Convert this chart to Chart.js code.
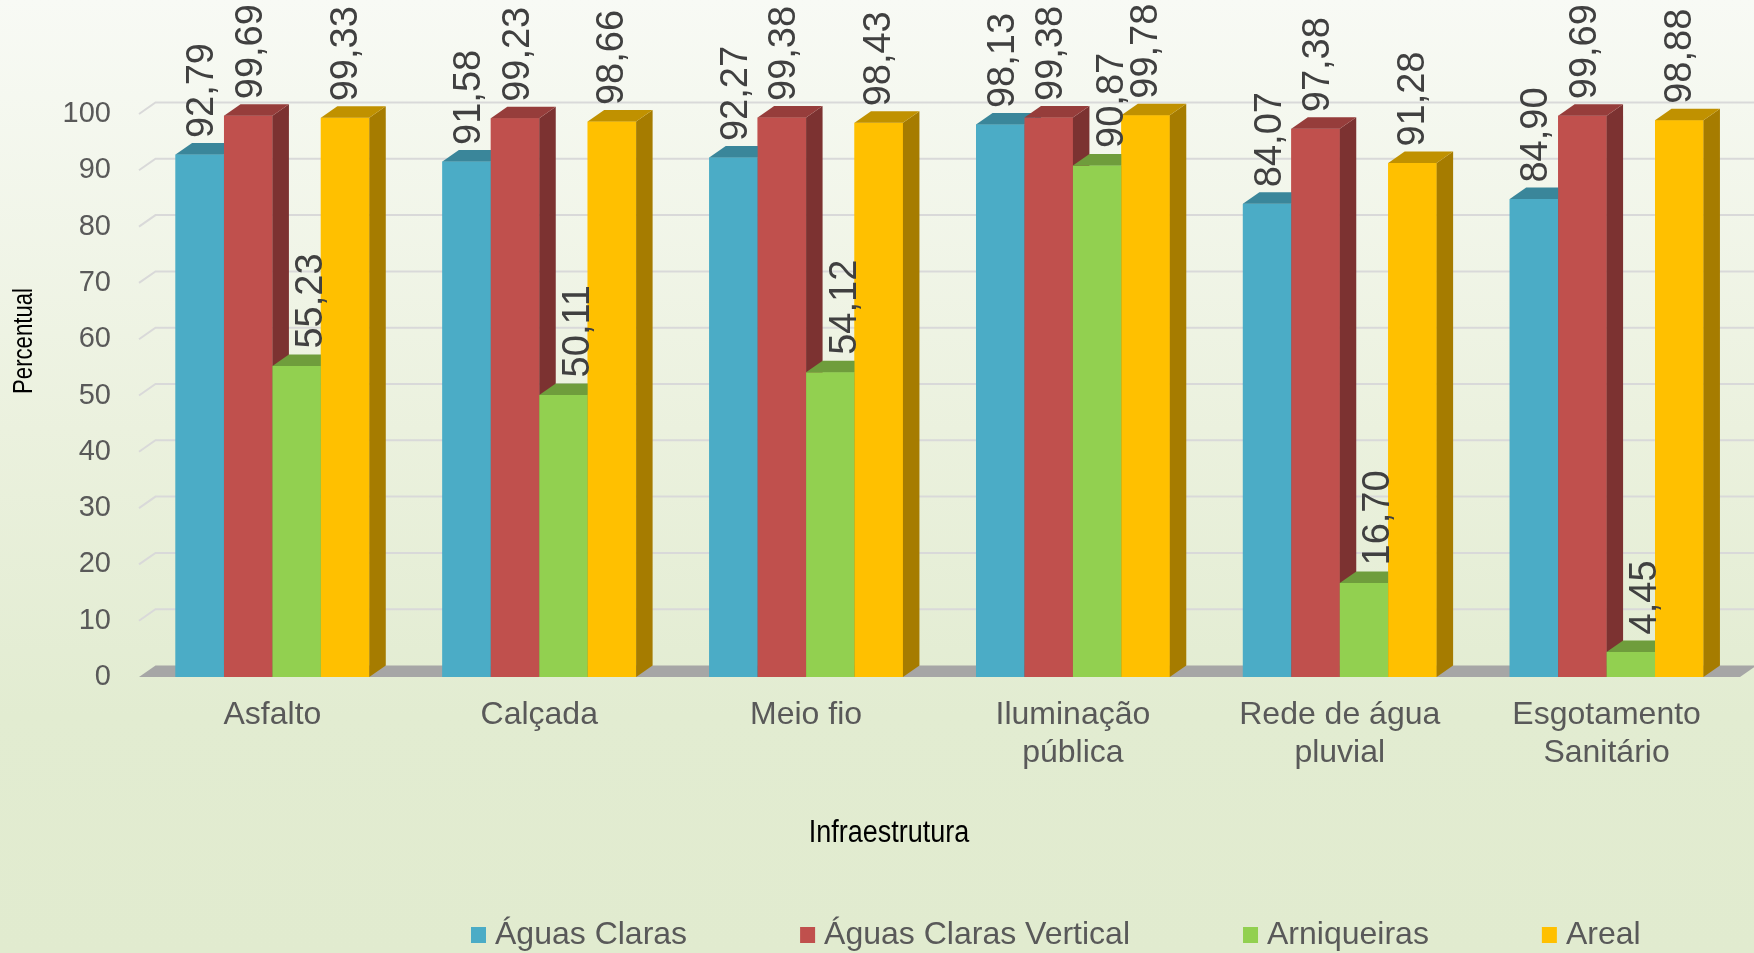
<!DOCTYPE html>
<html>
<head>
<meta charset="utf-8">
<script src="https://cdn.jsdelivr.net/npm/chart.js@4"></script>
<style>
  html, body { margin: 0; padding: 0; }
  body {
    width: 1754px; height: 953px; overflow: hidden;
    background: linear-gradient(to bottom, #f8faf5 0%, #ebf1de 45%, #e2ecd1 75%, #e1ebcf 100%);
  }
  canvas { display: block; }
</style>
</head>
<body>
<canvas id="chart" width="1754" height="953"></canvas>
<script>
// categorias e séries
const categories = ['Asfalto', 'Calçada', 'Meio fio', ['Iluminação', 'pública'], ['Rede de água', 'pluvial'], ['Esgotamento', 'Sanitário']];
const seriesNames = ['Águas Claras', 'Águas Claras Vertical', 'Arniqueiras', 'Areal'];
const aguasClaras = [92.79, 91.58, 92.27, 98.13, 84.07, 84.90];
const aguasClarasVertical = [99.69, 99.23, 99.38, 99.38, 97.38, 99.69];
const arniqueiras = [55.23, 50.11, 54.12, 90.87, 16.70, 4.45];
const areal = [99.33, 98.66, 98.43, 99.78, 91.28, 98.88];

const yAxisTitle = 'Percentual';
const xAxisTitle = 'Infraestrutura';

// cores: frente, topo, lateral
const frontColors = ['#4bacc6', '#c0504d', '#92d050', '#ffc000'];
const topColors = ['#3a869a', '#963d3b', '#6f9d3c', '#c09100'];
const sideColors = ['#2f7183', '#7c3231', '#5d8a30', '#a67c00'];
const labelShift = [3, 3, 15, 1];   // deslocamento x dos rótulos
const labelGap = [5, 5, 6, 5];

const DX = 16.5, DY = -11.5;   // profundidade 3D
const TEXT = '#595959';
const FONT = '"Liberation Sans", Arial, sans-serif';

const fmt = v => v.toFixed(2).replace('.', ',');

function poly(ctx, pts, color) {
    ctx.beginPath();
    ctx.moveTo(pts[0][0], pts[0][1]);
    for (let i = 1; i < pts.length; i++) ctx.lineTo(pts[i][0], pts[i][1]);
    ctx.closePath();
    ctx.fillStyle = color;
    ctx.fill();
}

const bars3d = {
    id: 'bars3d',
    beforeDatasetsDraw(chart) {
        const { ctx, chartArea: a, scales: { y } } = chart;
        ctx.save();
        // linhas de grade na parede do fundo
        ctx.strokeStyle = '#d9d9d9';
        ctx.lineWidth = 2;
        y.ticks.forEach(t => {
            if (t.value === 0) return;
            const py = y.getPixelForValue(t.value);
            ctx.beginPath();
            ctx.moveTo(a.left, py);
            ctx.lineTo(a.left + DX, py + DY);
            ctx.lineTo(a.right + DX, py + DY);
            ctx.stroke();
        });
        // piso
        const b = y.getPixelForValue(0);
        poly(ctx, [[a.left, b], [a.right, b], [a.right + DX, b + DY], [a.left + DX, b + DY]], '#a6a6a6');
        ctx.restore();
    },
    afterDatasetsDraw(chart) {
        const { ctx } = chart;
        ctx.save();
        // redesenha as barras da esquerda para a direita com topo e lateral
        chart.data.datasets.forEach((ds, i) => {
            chart.getDatasetMeta(i).data.forEach(bar => {
                bar.draw(ctx);
                const { x, y, base, width } = bar.getProps(['x', 'y', 'base', 'width'], true);
                const l = x - width / 2, r = x + width / 2;
                poly(ctx, [[r, y], [r + DX, y + DY], [r + DX, base + DY], [r, base]], sideColors[i]);
                poly(ctx, [[l, y], [r, y], [r + DX, y + DY], [l + DX, y + DY]], topColors[i]);
            });
        });

        // rótulos de dados
        ctx.fillStyle = '#404040';
        ctx.font = '38px ' + FONT;
        ctx.textAlign = 'left';
        ctx.textBaseline = 'middle';
        chart.data.datasets.forEach((ds, i) => {
            chart.getDatasetMeta(i).data.forEach((bar, j) => {
                const { x, y } = bar.getProps(['x', 'y'], true);
                ctx.save();
                ctx.translate(x + labelShift[i], y + DY - labelGap[i]);
                ctx.rotate(-Math.PI / 2);
                ctx.fillText(fmt(ds.data[j]), 0, 0);
                ctx.restore();
            });
        });
        ctx.restore();
    },
    afterDraw(chart) {
        const { ctx } = chart;
        ctx.save();
        // títulos dos eixos (fonte estreita)
        ctx.fillStyle = '#000';
        ctx.textAlign = 'center';
        ctx.textBaseline = 'middle';
        ctx.font = '27px ' + FONT;
        ctx.save();
        ctx.translate(25, 341);
        ctx.rotate(-Math.PI / 2);
        ctx.scale(0.82, 1);
        ctx.fillText(yAxisTitle, 0, 0);
        ctx.restore();
        ctx.save();
        ctx.font = '31px ' + FONT;
        ctx.translate(889, 833);
        ctx.scale(0.87, 1);
        ctx.fillText(xAxisTitle, 0, 0);
        ctx.restore();

        // legenda
        ctx.font = '32px ' + FONT;
        ctx.textAlign = 'left';
        let lx = 471;
        const ly = 935;
        chart.data.datasets.forEach((ds, i) => {
            ctx.fillStyle = frontColors[i];
            ctx.fillRect(lx, ly - 8, 15, 16);
            ctx.fillStyle = TEXT;
            ctx.fillText(ds.label, lx + 24, ly);
            lx += 24 + ctx.measureText(ds.label).width + 113;
        });
        ctx.restore();
    }
};

const seriesData = [aguasClaras, aguasClarasVertical, arniqueiras, areal];

new Chart(document.getElementById('chart'), {
    type: 'bar',
    data: {
        labels: categories,
        datasets: seriesData.map((d, i) => ({
            label: seriesNames[i],
            data: d,
            backgroundColor: frontColors[i],
            borderWidth: 0,
            categoryPercentage: 0.726,
            barPercentage: 1
        }))
    },
    options: {
        responsive: false,
        animation: false,
        layout: { padding: { top: 114, right: 14, left: 0, bottom: 0 } },
        plugins: {
            legend: { display: false },
            tooltip: { enabled: false }
        },
        scales: {
            x: {
                grid: { display: false, drawTicks: false },
                border: { display: false },
                ticks: { color: TEXT, font: { size: 32, family: FONT }, padding: 19, maxRotation: 0, autoSkip: false },
                afterFit: s => { s.height = 276; }
            },
            y: {
                min: 0, max: 100,
                grid: { display: false, drawTicks: false },
                border: { display: false },
                ticks: { stepSize: 10, color: TEXT, font: { size: 29, family: FONT }, padding: 28 },
                afterFit: s => { s.width = 139; }
            }
        }
    },
    plugins: [bars3d]
});
</script>
</body>
</html>
